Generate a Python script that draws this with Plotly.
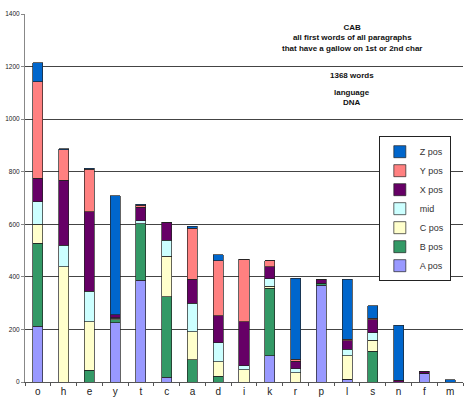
import plotly.graph_objects as go

categories = ["o", "h", "e", "y", "t", "c", "a", "d", "i", "k", "r", "p", "l", "s", "n", "f", "m"]
a_pos = [213, 0, 0, 225, 387, 19, 0, 0, 0, 100, 0, 368, 10, 0, 0, 33, 0]
b_pos = [314, 0, 45, 12, 216, 305, 85, 22, 0, 257, 0, 7, 0, 117, 0, 0, 0]
c_pos = [73, 438, 184, 5, 0, 155, 107, 56, 47, 8, 36, 0, 90, 41, 0, 0, 0]
mid = [85, 83, 117, 3, 10, 61, 108, 72, 14, 27, 15, 0, 25, 30, 0, 0, 0]
x_pos = [90, 247, 301, 10, 51, 67, 90, 103, 168, 46, 28, 16, 31, 48, 6, 8, 0]
y_pos = [368, 115, 162, 0, 9, 0, 194, 208, 238, 24, 7, 0, 7, 7, 0, 0, 0]
z_pos = [71, 5, 4, 454, 3, 0, 9, 24, 0, 0, 308, 0, 227, 47, 209, 0, 8]

series = [
    ("A pos", a_pos, "#9999FF"),
    ("B pos", b_pos, "#339966"),
    ("C pos", c_pos, "#FFFFCC"),
    ("mid", mid, "#CCFFFF"),
    ("X pos", x_pos, "#660066"),
    ("Y pos", y_pos, "#FF8080"),
    ("Z pos", z_pos, "#0066CC"),
]

fig = go.Figure()
for name, vals, color in series:
    fig.add_trace(go.Bar(
        x=categories, y=vals, name=name,
        marker=dict(color=color, line=dict(color="#222222", width=0.7)),
    ))

font = "Liberation Sans, Arial, sans-serif"
fig.update_layout(
    width=467, height=400,
    margin=dict(l=25, r=4, t=14, b=18),
    barmode="stack", bargap=0.61,
    plot_bgcolor="white", paper_bgcolor="white",
    font=dict(family=font, color="#111111"),
    showlegend=True,
    legend=dict(
        x=0.89, y=0.668, xanchor="center", yanchor="top",
        traceorder="reversed", itemwidth=30,
        bordercolor="#222222", borderwidth=1, bgcolor="white",
        font=dict(size=9, color="#333333", family=font),
    ),
    xaxis=dict(
        showline=True, linecolor="#555555", linewidth=1,
        ticks="outside", tickson="boundaries", ticklen=3, tickcolor="#555555",
        tickfont=dict(size=10, color="#222222"),
        showgrid=False,
    ),
    yaxis=dict(
        range=[0, 1400], dtick=200,
        showline=True, linecolor="#888888", linewidth=1,
        ticks="outside", ticklen=3, tickcolor="#888888",
        tickfont=dict(size=6.5, color="#222222"),
        showgrid=True, gridcolor="#444444", gridwidth=1,
        zeroline=False,
    ),
)

ann_font = dict(family=font, size=8, color="#111111")
fig.add_annotation(xref="paper", yref="paper", x=0.7466, y=0.935, xanchor="center", yanchor="middle",
                   text="<b>CAB<br>all first words of all paragraphs<br>that have a gallow on 1st or 2nd char</b>",
                   showarrow=False, font=ann_font)
fig.add_annotation(xref="paper", yref="paper", x=0.7466, y=0.834, xanchor="center", yanchor="middle",
                   text="<b>1368 words</b>", showarrow=False, font=ann_font)
fig.add_annotation(xref="paper", yref="paper", x=0.7466, y=0.773, xanchor="center", yanchor="middle",
                   text="<b>language<br>DNA</b>", showarrow=False, font=ann_font)

fig.write_html("out.html", config={"displayModeBar": False},
               post_script="document.body.style.margin='0';document.body.style.overflow='hidden';")
